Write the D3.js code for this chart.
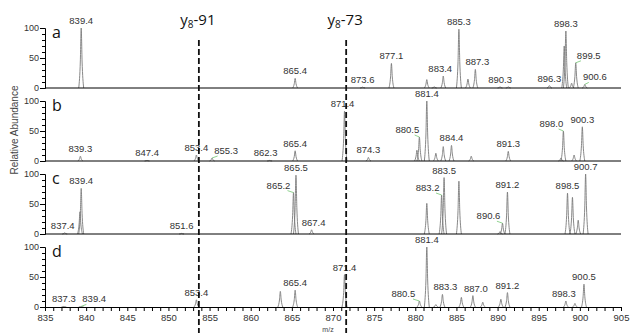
<!DOCTYPE html>
<html>
<head>
<meta charset="utf-8">
<script src="https://cdn.jsdelivr.net/npm/d3@7"></script>
<style>
  body { margin: 0; background: #fff; }
  svg { display: block; font-family: "Liberation Sans", Arial, sans-serif; }
</style>
</head>
<body>
<svg id="chart" width="630" height="333"></svg>
<script>
// spectra: [m/z, relative abundance]
const panelNames = ['a', 'b', 'c', 'd'];

const peaksA = [[839.4, 100], [865.4, 16], [873.6, 1.5], [877.1, 41], [881.4, 14], [882.3, 2],
    [883.4, 20], [885.3, 98], [886.4, 15], [887.3, 31], [890.3, 2], [891.3, 2], [896.3, 4],
    [898.1, 70], [898.3, 95], [899.0, 8], [899.5, 42], [900.6, 6]];
const peaksB = [[839.3, 8], [847.4, 1], [853.4, 10], [855.3, 5], [862.3, 1], [865.4, 17],
    [871.4, 83], [874.3, 6], [880.2, 18], [880.5, 40], [881.4, 100], [882.5, 13], [883.4, 24],
    [884.4, 26], [886.8, 8], [891.3, 16], [897.7, 5], [898.0, 50], [899.3, 10], [900.3, 57]];
const peaksC = [[837.4, 2], [839.25, 37], [839.4, 76], [851.6, 1], [865.2, 69], [865.5, 98],
    [867.4, 7], [881.4, 51], [883.2, 65], [883.5, 94], [885.3, 88], [890.3, 4], [890.6, 18],
    [891.2, 70], [898.5, 68], [899.1, 61], [899.8, 23], [900.7, 100]];
const peaksD = [[837.3, 1], [839.4, 1], [853.4, 12], [863.6, 26], [865.4, 28], [871.4, 54],
    [880.5, 10], [881.4, 100], [882.5, 4], [883.3, 21], [885.6, 16], [887.0, 19], [888.2, 8],
    [890.4, 13], [891.2, 24], [898.3, 10], [899.4, 6], [900.5, 38]];

// annotated peaks per panel
const labelsA = [839.4, 865.4, 873.6, 877.1, 883.4, 885.3, 887.3, 890.3, 896.3, 898.3, 899.5, 900.6];
const labelsB = [839.3, 847.4, 853.4, 855.3, 862.3, 865.4, 871.4, 874.3, 880.5, 881.4, 884.4, 891.3, 898.0, 900.3];
const labelsC = [837.4, 839.4, 851.6, 865.2, 865.5, 867.4, 883.2, 883.5, 890.6, 891.2, 898.5, 900.7];
const labelsD = [837.3, 839.4, 853.4, 865.4, 871.4, 880.5, 881.4, 883.3, 887.0, 891.2, 898.3, 900.5];

const markerNames = ['-91', '-73'];
const markerMz = [853.7, 871.6];

const xTicks = [835, 836, 837, 838, 839, 840, 841, 842, 843, 844, 845, 846, 847, 848, 849, 850,
    851, 852, 853, 854, 855, 856, 857, 858, 859, 860, 861, 862, 863, 864, 865, 866, 867, 868, 869,
    870, 871, 872, 873, 874, 875, 876, 877, 878, 879, 880, 881, 882, 883, 884, 885, 886, 887, 888,
    889, 890, 891, 892, 893, 894, 895, 896, 897, 898, 899, 900, 901, 902, 903, 904, 905];
const xTickLabels = [835, 840, 845, 850, 855, 860, 865, 870, 875, 880, 885, 890, 895, 900, 905];
const yTicks = [0, 10, 20, 30, 40, 50, 60, 70, 80, 90, 100];
const yTickLabels = [0, 50, 100];

// label nudges (px) where the original moved a label sideways off its peak
const labelShift = {
    a: { 883.4: -3, 887.3: 2, 899.5: 13, 900.6: 10 },
    b: { 855.3: 14, 862.3: -4, 871.4: -2, 880.5: -12, 898.0: -12 },
    c: { 837.4: -2, 865.2: -15, 867.4: 2, 883.2: -14, 890.6: -14 },
    d: { 839.4: 13, 880.5: -16, 883.3: 3, 887.0: 3, 898.3: -2 }
};

const peaks = [peaksA, peaksB, peaksC, peaksD];
const labels = [labelsA, labelsB, labelsC, labelsD];

const svg = d3.select('#chart');
const left = 45, right = 621;
const firstTop = 28, panelH = 60, panelStep = 73;
const halfWidth = 0.3;

const x = d3.scaleLinear().domain([835, 905]).range([left, right]);

panelNames.forEach(function (name, i) {
    const top = firstTop + i * panelStep;
    const y = d3.scaleLinear().domain([0, 100]).range([top + panelH, top]);
    const g = svg.append('g').attr('class', 'panel-' + name);

    const peakLine = d3.line()
        .x(d => x(d[0]))
        .y(d => y(d[1]))
        .curve(d3.curveMonotoneX);

    g.selectAll('path.peak')
        .data(peaks[i])
        .enter().append('path')
        .attr('class', 'peak')
        .attr('d', d => peakLine([[d[0] - halfWidth, 0], [d[0] - halfWidth * 0.35, d[1] * 0.45],
            [d[0], d[1]], [d[0] + halfWidth * 0.35, d[1] * 0.45], [d[0] + halfWidth, 0]]))
        .attr('fill', 'none')
        .attr('stroke', '#7a7a7a')
        .attr('stroke-width', 0.9);

    // y axis
    const yAxis = d3.axisLeft(y)
        .tickValues(yTicks)
        .tickSizeOuter(0)
        .tickSize(3)
        .tickPadding(3)
        .tickFormat(d => yTickLabels.includes(d) ? d : '');
    const ya = g.append('g')
        .attr('transform', 'translate(' + left + ',0)')
        .call(yAxis);
    ya.selectAll('.tick')
        .filter(d => yTickLabels.includes(d))
        .select('line').attr('x2', -5);
    ya.selectAll('.tick text').attr('x', -6);
    ya.selectAll('text').attr('font-size', 9).attr('fill', '#333').attr('font-family', '"Liberation Sans", Arial, sans-serif');
    ya.selectAll('line, path').attr('stroke', '#000');

    // baseline / bottom axis
    if (i === panelNames.length - 1) {
        const xa = g.append('g')
            .attr('transform', 'translate(0,' + (top + panelH) + ')')
            .call(d3.axisBottom(x)
                .tickValues(xTicks)
                .tickSizeOuter(0)
                .tickSize(4)
                .tickPadding(3)
                .tickFormat(d => xTickLabels.includes(d) ? d : ''));
        xa.selectAll('text').attr('font-size', 9.5).attr('fill', '#333').attr('font-family', '"Liberation Sans", Arial, sans-serif');
        xa.selectAll('line, path').attr('stroke', '#000');
    } else {
        g.append('line')
            .attr('x1', left).attr('x2', right)
            .attr('y1', y(0)).attr('y2', y(0))
            .attr('stroke', '#000')
            .attr('stroke-width', 1);
    }

    // peak labels
    const shifts = labelShift[name];
    const labelData = labels[i].map(function (mz) {
        const pk = peaks[i].find(p => Math.abs(p[0] - mz) < 0.01);
        return { mz: mz, h: pk[1], dx: shifts[mz] || 0 };
    });

    g.selectAll('line.leader')
        .data(labelData.filter(d => Math.abs(d.dx) > 5))
        .enter().append('line')
        .attr('class', 'leader')
        .attr('x1', d => x(d.mz) + d.dx * 0.4)
        .attr('y1', d => y(d.h) - 2)
        .attr('x2', d => x(d.mz))
        .attr('y2', d => y(d.h))
        .attr('stroke', '#74c774')
        .attr('stroke-width', 0.8);

    g.selectAll('text.plabel')
        .data(labelData)
        .enter().append('text')
        .attr('class', 'plabel')
        .attr('x', d => x(d.mz) + d.dx)
        .attr('y', d => y(d.h) - 4)
        .attr('text-anchor', 'middle')
        .attr('font-size', 9.5)
        .attr('fill', '#333')
        .text(d => d.mz.toFixed(1));

    // panel letter
    g.append('text')
        .attr('x', 52)
        .attr('y', top + 10)
        .attr('font-family', '"Open Sans", sans-serif')
        .attr('font-size', 16)
        .attr('fill', '#111')
        .text(name);
});

// y8 loss markers
markerNames.forEach(function (nm, k) {
    const mx = x(markerMz[k]);
    svg.append('line')
        .attr('x1', mx).attr('x2', mx)
        .attr('y1', 40).attr('y2', 333)
        .attr('stroke', '#111')
        .attr('stroke-width', 1.8)
        .attr('stroke-dasharray', '6,3');
    const t = svg.append('text')
        .attr('x', mx - 1)
        .attr('y', 25)
        .attr('text-anchor', 'middle')
        .attr('font-family', '"Open Sans", sans-serif')
        .attr('font-size', 15)
        .attr('fill', '#111');
    t.append('tspan').text('y');
    t.append('tspan').attr('font-size', 10).attr('dy', 3).text('8');
    t.append('tspan').attr('dy', -3).text(nm);
});

// axis titles
svg.append('text')
    .attr('transform', 'translate(18,130) rotate(-90)')
    .attr('text-anchor', 'middle')
    .attr('font-size', 10)
    .attr('fill', '#444')
    .text('Relative Abundance');

svg.append('text')
    .attr('x', 328)
    .attr('y', 332)
    .attr('text-anchor', 'middle')
    .attr('font-size', 7)
    .attr('fill', '#444')
    .text('m/z');
</script>
</body>
</html>
